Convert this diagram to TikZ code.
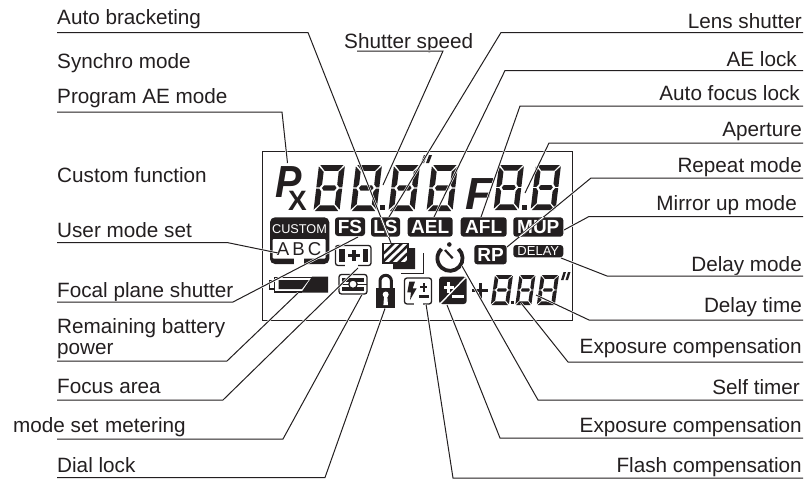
\documentclass[tikz,border=0pt]{standalone}
\usepackage{fontspec}
\setmainfont{Liberation Sans}
\definecolor{ink}{HTML}{231F20}
\newcommand\lcddigit[5]{%
\begin{scope}[shift={(#1,#2)},xslant=#5,xscale=#3,yscale=#4]
\fill[ink] (.05,0)--(.95,0)--(.76,.125)--(.24,.125)--cycle;
\fill[ink] (.05,1)--(.95,1)--(.76,.875)--(.24,.875)--cycle;
\fill[ink] (.22,.5)--(.29,.445)--(.71,.445)--(.78,.5)--(.71,.555)--(.29,.555)--cycle;
\fill[ink] (0,.03)--(.21,.15)--(.21,.42)--(.12,.487)--(0,.487)--cycle;
\fill[ink] (0,.97)--(.21,.85)--(.21,.58)--(.12,.513)--(0,.513)--cycle;
\fill[ink] (1,.03)--(.79,.15)--(.79,.42)--(.88,.487)--(1,.487)--cycle;
\fill[ink] (1,.97)--(.79,.85)--(.79,.58)--(.88,.513)--(1,.513)--cycle;
\end{scope}}
\tikzset{
  lbl/.style={anchor=base west,inner sep=0pt,text=ink,font=\fontsize{20.7}{21}\selectfont},
  rbl/.style={anchor=base east,inner sep=0pt,text=ink,font=\fontsize{20.7}{21}\selectfont},
  leader/.style={draw=ink,line width=1pt,line join=miter,preaction={draw=white,line width=2.2pt}},
  pill/.style={fill=ink,rounded corners=3pt},
  pilltext/.style={inner sep=0pt,text=white,font=\fontsize{19}{19}\bfseries\selectfont},
  frameicon/.style={draw=ink,line width=1.3pt,rounded corners=2.5pt,fill=white}
}
\begin{document}
\begin{tikzpicture}[x=1pt,y=-1pt]
\useasboundingbox[fill=white] (0,0) rectangle (804,479);
% LCD frame
\node[draw=ink,line width=1pt,inner sep=0pt,minimum width=310pt,minimum height=169pt,anchor=north west] (lcd) at (262,151) {};
% big digits
\lcddigit{319}{165}{26}{46}{.12}
\lcddigit{356}{165}{26}{46}{.12}
\lcddigit{394}{165}{26}{46}{.12}
\lcddigit{432}{165}{26}{46}{.12}
\lcddigit{499}{165}{25}{45}{.12}
\lcddigit{536}{165}{25}{45}{.12}
\fill[ink] (380,205) rectangle (385,210);
\fill[ink] (522,205) rectangle (527,210);
\fill[ink] (421,163)--(424,163)--(427,155)--(424,155)--cycle;
\fill[ink] (426,163)--(429,163)--(432,155)--(429,155)--cycle;
\node[anchor=base west,inner sep=0pt,xscale=.88,transform shape,text=ink,font=\fontsize{45}{45}\bfseries\itshape\selectfont] (pP) at (275,197) {P};
\node[anchor=base west,inner sep=0pt,text=ink,font=\fontsize{28}{28}\bfseries\selectfont] (pX) at (288,210) {X};
\node[anchor=base west,inner sep=0pt,text=ink,font=\fontsize{45}{45}\bfseries\itshape\selectfont] (pF) at (465,209) {F};
% small digits
\lcddigit{495}{275}{18}{30}{.14}
\lcddigit{519.5}{275}{16}{30}{.14}
\lcddigit{541}{275}{18}{30}{.14}
\fill[ink] (510.5,301) rectangle (513.5,304);
\fill[ink] (561,280)--(563.5,280)--(566,272)--(563.5,272)--cycle;
\fill[ink] (565.5,280)--(568,280)--(570.5,272)--(568,272)--cycle;
\fill[ink] (472,289.3) rectangle (488,292.3);
\fill[ink] (478.5,282.5) rectangle (481.5,299);
% CUSTOM
\fill[pill,rounded corners=5pt] (270,217.3) rectangle (329.3,264);
\fill[white,rounded corners=1pt] (272.7,239) rectangle (325.5,258.5);
\fill[white] (294,257) rectangle (304,265);
\node[inner sep=0pt,text=white,font=\fontsize{12.7}{13}\selectfont] (iCustom) at (299.5,229) {CUSTOM};
\node[inner sep=0pt,text=ink,font=\fontsize{18.6}{19}\selectfont] (iABC) at (299,249) {A\,B\,C};
% pills
\path[pill] (335,217.3) rectangle (365,236);
\node[pilltext] (iFS) at (350,226.7) {FS};
\path[pill] (371,217.3) rectangle (400,236.7);
\node[pilltext] (iLS) at (385.5,227) {LS};
\path[pill] (407.7,217.3) rectangle (452.7,236.7);
\node[pilltext] (iAEL) at (430.2,227) {AEL};
\path[pill] (460.7,217.3) rectangle (506.7,236.7);
\node[pilltext] (iAFL) at (483.7,227) {AFL};
\path[pill] (513.3,217.3) rectangle (563.3,236.7);
\node[pilltext] (iMUP) at (538.3,227) {MUP};
\path[pill] (474.3,245) rectangle (506.7,264.3);
\node[pilltext] (iRP) at (490.5,254.7) {RP};
\path[pill] (513.3,245) rectangle (563.3,257.3);
\node[inner sep=0pt,text=white,font=\fontsize{13}{13}\selectfont] (iDelay) at (538.3,251.2) {DELAY};
% focal plane icon
\path[frameicon] (335.5,245.5) rectangle (371,265.5);
\fill[white] (345,263) rectangle (358,268);
\fill[ink] (339,248.5) rectangle (345,262);
\fill[ink] (363,248.5) rectangle (368,262);
\fill[ink] (348,253.5) rectangle (360,257);
\fill[ink] (352.2,249.5) rectangle (355.8,261);
% bracketing icon
\draw[ink,line width=1pt] (401,273) -- (423,273) -- (423,253);
\fill[ink] (393,262) -- (408.5,262) -- (408.5,248) -- (415,248) -- (415,269) -- (393,269) -- cycle;
\begin{scope}
\clip (383,243.5) rectangle (408,263);
\fill[white] (383,243.5) rectangle (408,263);
\foreach \d in {0,8,16,24,32,40}
  \fill[ink] (372+\d,263)--(375.5+\d,263)--(395.5+\d,243.5)--(392+\d,243.5)--cycle;
\end{scope}
\draw[ink,line width=1.3pt] (383,243.5) rectangle (408,263);
% self timer
\draw[ink,line width=3.8pt] (458.4,248.9) arc[start angle=-48,end angle=228,radius=12.6];
\draw[ink,line width=2.2pt] (445,250) -- (452.7,258.3);
\fill[ink] (449.3,244.5) circle[radius=2.3];
% battery
\draw[ink,line width=1.2pt] (269.7,280.5) rectangle (274.7,289);
\draw[ink,line width=1.2pt] (312,277.2) -- (274.7,277.2) -- (274.7,292) -- (302,292);
\fill[ink] (278.7,280) -- (308.7,280) -- (302,289) -- (278.7,289) -- cycle;
\fill[ink] (312,276.7) -- (328,276.7) -- (328,292.5) -- (301.3,292.5) -- cycle;
% metering
\path[frameicon] (339,274.5) rectangle (367,294);
\fill[ink] (342,277.5) rectangle (364,282);
\fill[ink] (342,286.5) rectangle (364,291);
\fill[ink] (339,283.6) rectangle (367,285);
\draw[ink,fill=white,line width=1.3pt] (353,284.2) circle[radius=4.2];
% lock
\draw[ink,line width=3pt] (380,290) -- (380,281) arc[start angle=180,end angle=360,radius=5.7] -- (391.4,290);
\fill[ink] (376,288.3) rectangle (395,308.3);
\fill[white] (385.7,294.5) circle[radius=3];
\fill[white] (384.2,295) -- (387.2,295) -- (388,305) -- (383.4,305) -- cycle;
% flash compensation
\path[frameicon] (404.5,278) rectangle (431.5,304);
\fill[white] (414,302) rectangle (423,306);
\fill[ink] (409.3,281.7)--(415,281.7)--(412.7,288.3)--(416.7,288.3)--(410,300)--(411,292.3)--(407.3,292.3)--cycle;
\fill[ink] (420,286.2) rectangle (427.3,288.2);
\fill[ink] (422.7,283.3) rectangle (424.7,291.5);
\fill[ink] (418.5,295) rectangle (428.5,298);
% exposure compensation
\path[pill] (439,276.7) rectangle (466.7,304);
\draw[white,line width=1.4pt] (440,304) -- (465.5,277.5);
\fill[white] (443.5,285.7) rectangle (454,288.7);
\fill[white] (447.3,281.5) rectangle (450.3,292.5);
\fill[white] (451.5,295) rectangle (464,298);
% labels, left
\node[lbl] (tBrack) at (57,24) {Auto bracketing};
\node[lbl] (tSynchro) at (57,68) {Synchro mode};
\node[lbl] (tProg) at (57,103) {Program AE mode};
\node[lbl] (tCustom) at (57,182) {Custom function};
\node[lbl] (tUser) at (57,237) {User mode set};
\node[lbl] (tFocal) at (57,297) {Focal plane shutter};
\node[lbl] (tBatt1) at (57,333) {Remaining battery};
\node[lbl] (tBatt2) at (57,354) {power};
\node[lbl] (tArea) at (57,393) {Focus area};
\node[lbl] (tModeset) at (13,432) {mode set};
\node[lbl] (tMeter) at (105,432) {metering};
\node[lbl] (tDial) at (57,472) {Dial lock};
\node[lbl] (tSpeed) at (344,48) {Shutter speed};
% labels, right
\node[rbl] (tLens) at (802,28) {Lens shutter};
\node[rbl] (tAElock) at (797,66) {AE lock};
\node[rbl] (tAFlock) at (800,100) {Auto focus lock};
\node[rbl] (tAper) at (802,136) {Aperture};
\node[rbl] (tRepeat) at (802,172) {Repeat mode};
\node[rbl] (tMirror) at (797,210) {Mirror up mode};
\node[rbl] (tDelayM) at (802,271) {Delay mode};
\node[rbl] (tDelayT) at (802,312) {Delay time};
\node[rbl] (tExpA) at (802,353) {Exposure compensation};
\node[rbl] (tSelf) at (800,394) {Self timer};
\node[rbl] (tExpB) at (802,432) {Exposure compensation};
\node[rbl] (tFlash) at (802,472) {Flash compensation};
% leader anchor points
\coordinate (aBrack) at (57,32.5); \coordinate (bBrack) at (308,32.5); \coordinate (eBrack) at (391,243);
\coordinate (aProg) at (57,112); \coordinate (bProg) at (282,112); \coordinate (eProg) at (287.5,163);
\coordinate (aSpeed) at (357,51); \coordinate (bSpeed) at (443,51); \coordinate (eSpeed) at (383,185);
\coordinate (aLens) at (803,32.5); \coordinate (bLens) at (501,32.5); \coordinate (eLens) at (389,217);
\coordinate (aAE) at (803,70.5); \coordinate (bAE) at (505,70.5); \coordinate (eAE) at (434,217);
\coordinate (aAF) at (803,106); \coordinate (bAF) at (520,106); \coordinate (eAF) at (481,217);
\coordinate (aAper) at (803,143); \coordinate (bAper) at (549,143); \coordinate (eAper) at (525,193);
\coordinate (aRep) at (803,178); \coordinate (bRep) at (591,178); \coordinate (eRep) at (507,247);
\coordinate (aMir) at (803,216.5); \coordinate (bMir) at (589,216.5); \coordinate (eMir) at (564,230);
\coordinate (aDM) at (803,276); \coordinate (bDM) at (607,276); \coordinate (eDM) at (561,258);
\coordinate (aDT) at (803,320); \coordinate (bDT) at (589,320); \coordinate (eDT) at (536,295);
\coordinate (aXA) at (803,362); \coordinate (bXA) at (568,362); \coordinate (eXA) at (521,303);
\coordinate (aSelf) at (803,400); \coordinate (bSelf) at (538,400); \coordinate (eSelf) at (462,266);
\coordinate (aXB) at (803,438); \coordinate (bXB) at (500,438); \coordinate (eXB) at (447,305);
\coordinate (aFl) at (803,478); \coordinate (bFl) at (453,478); \coordinate (eFl) at (426,304);
\coordinate (aUser) at (57,242.5); \coordinate (bUser) at (227,242.5); \coordinate (eUser) at (278,253);
\coordinate (aFoc) at (57,302); \coordinate (bFoc) at (233,302); \coordinate (eFoc) at (358,237);
\coordinate (aBat) at (57,361); \coordinate (bBat) at (227,361); \coordinate (eBat) at (298,293);
\coordinate (aAr) at (57,400); \coordinate (bAr) at (223,400); \coordinate (eAr) at (358,268);
\coordinate (aMe) at (57,439); \coordinate (bMe) at (283,439); \coordinate (eMe) at (362,294.5);
\coordinate (aDi) at (57,477.5); \coordinate (bDi) at (325,477.5); \coordinate (eDi) at (385,308.5);
% leaders
\foreach \n in {Brack,Prog,Speed,Lens,AE,AF,Aper,Rep,Mir,DM,DT,XA,Self,XB,Fl,User,Foc,Bat,Ar,Me,Di}
  \path[leader] (a\n) -- (b\n) -- (e\n);
% white crossings on the black plates
\begin{scope}
\clip (371,217.3) rectangle (400,236.7);
\draw[ink,line width=2.4pt] (bBrack) -- (eBrack);
\draw[white,line width=1.1pt] (bBrack) -- (eBrack);
\end{scope}
\begin{scope}
\clip (513.3,217.3) rectangle (563.3,236.7);
\draw[ink,line width=2.4pt] (bRep) -- (eRep);
\draw[white,line width=1.1pt] (bRep) -- (eRep);
\end{scope}
\end{tikzpicture}
\end{document}
